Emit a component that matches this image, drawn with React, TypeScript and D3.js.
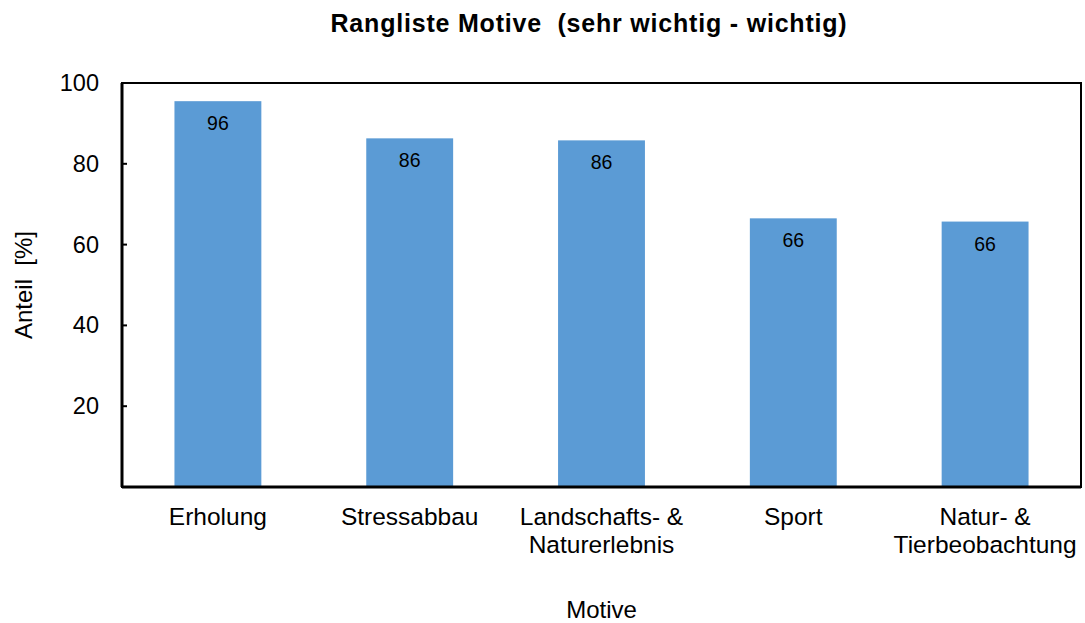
import React from "react";
import * as d3 from "d3";

const categories = ["Erholung", "Stressabbau", "Landschafts- &\nNaturerlebnis", "Sport", "Natur- &\nTierbeobachtung"];
const values = [95.5, 86.3, 85.8, 66.5, 65.7];
const valueLabels = ["96", "86", "86", "66", "66"];
const yTicks = [20, 40, 60, 80, 100];

const W = 1085, H = 623;
const m = { left: 122, right: 1081, top: 83, bottom: 487 };
const font = "Liberation Sans, Arial, sans-serif";
const pre = { whiteSpace: "pre" as const };

export default function App() {
  const x = d3.scaleBand<string>().domain(categories).range([m.left, m.right]).padding(0);
  const y = d3.scaleLinear().domain([0, 100]).range([m.bottom, m.top]);
  const bw = x.bandwidth() * 0.453;
  return (
    <svg width={W} height={H} style={{ position: "absolute", left: 0, top: 0 }} fontFamily={font}>
      <rect x={0} y={0} width={W} height={H} fill="#fff" />
      <text x={589} y={32} textAnchor="middle" fontSize={25} fontWeight="bold" letterSpacing={0.8} xmlSpace="preserve" style={pre}>{"Rangliste Motive  (sehr wichtig - wichtig)"}</text>
      {categories.map((c, i) => {
        const cx = x(c)! + x.bandwidth() / 2;
        return (
          <g key={c}>
            <rect x={cx - bw / 2} y={y(values[i])} width={bw} height={m.bottom - y(values[i])} fill="#5B9BD5" />
            <text x={cx} y={y(values[i]) + 29} textAnchor="middle" fontSize={19.5} fill="#000">{valueLabels[i]}</text>
            {c.split("\n").map((line, j) => (
              <text key={j} x={cx} y={525 + j * 28} textAnchor="middle" fontSize={24.5}>{line}</text>
            ))}
          </g>
        );
      })}
      <rect x={m.left} y={m.top} width={m.right - m.left} height={m.bottom - m.top} fill="none" stroke="#000" strokeWidth={2} />
      <line x1={m.left} x2={m.left} y1={m.top} y2={m.bottom} stroke="#000" strokeWidth={3} />
      <line x1={m.left} x2={m.right} y1={m.bottom} y2={m.bottom} stroke="#000" strokeWidth={3} />
      {yTicks.map(t => (
        <g key={t}>
          <line x1={m.left} x2={m.left + 5} y1={y(t)} y2={y(t)} stroke="#000" strokeWidth={2} />
          <text x={99} y={y(t) + 8} textAnchor="end" fontSize={23.5}>{t}</text>
        </g>
      ))}
      <text transform={`translate(32,${(m.top + m.bottom) / 2}) rotate(-90)`} textAnchor="middle" fontSize={24} xmlSpace="preserve" style={pre}>{"Anteil  [%]"}</text>
      <text x={(m.left + m.right) / 2} y={618} textAnchor="middle" fontSize={24}>Motive</text>
    </svg>
  );
}
